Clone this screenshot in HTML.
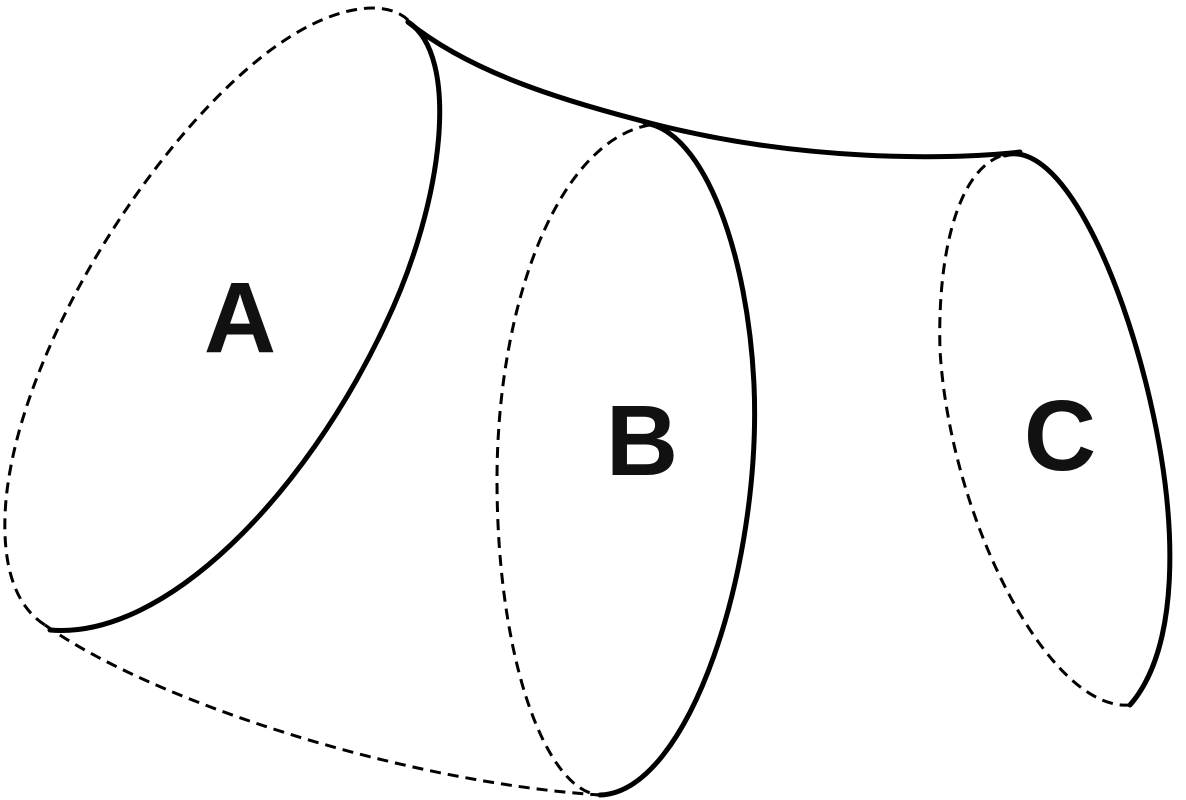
<!DOCTYPE html>
<html><head><meta charset="utf-8"><style>
html,body{margin:0;padding:0;background:#fff;}
svg{display:block;}
text{font-family:"Liberation Sans",sans-serif;font-weight:bold;font-size:100px;fill:#111;}
</style></head><body>
<svg width="1186" height="800" viewBox="0 0 1186 800">
<g fill="none" stroke="#000" stroke-width="5" stroke-linecap="round">
<path d="M408,22 C460,55 445,200 385,325 C305,495 165,640 50,630"/>
<path d="M408,22 C470,72 560,100 650,123 C800,162 950,160 1020,152"/>
<path d="M645,123 C705,132 748,255 754,385 C762,565 690,792 600,795"/>
<path d="M1005,155 C1060,140 1120,270 1150,400 C1180,530 1178,650 1130,705"/>
</g>
<g fill="none" stroke="#000" stroke-width="3" stroke-dasharray="11,7">
<path d="M408,20 C385,-2 330,5 268,52 C150,142 20,350 6,500 C0,570 18,608 45,625"/>
<path d="M45,625 C150,700 400,782 600,795"/>
<path d="M650,125 C560,140 497,300 497,480 C497,662 547,792 600,795"/>
<path d="M1018,153 C960,152 937,250 940,350 C950,520 1050,712 1130,705"/>
</g>
<text x="240" y="352" text-anchor="middle">A</text>
<text x="642" y="475" text-anchor="middle">B</text>
<text x="1060" y="470" text-anchor="middle">C</text>
</svg>
</body></html>
